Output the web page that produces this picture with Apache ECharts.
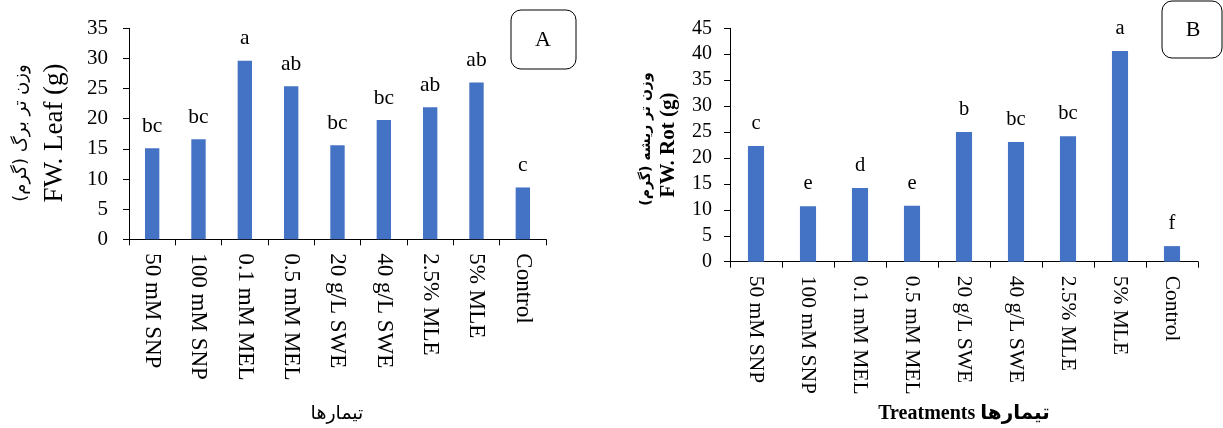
<!DOCTYPE html>
<html>
<head>
<meta charset="utf-8">
<script src="https://cdn.jsdelivr.net/npm/echarts@6/dist/echarts.min.js"></script>
<style>
html,body{margin:0;padding:0;background:#fff;}
#chart{width:1223px;height:428px;}
</style>
</head>
<body>
<div id="chart"></div>
<script>
var categories = ['50 mM SNP','100 mM SNP','0.1 mM MEL','0.5 mM MEL','20 g/L SWE','40 g/L SWE','2.5% MLE','5% MLE','Control'];
var leafValues = [15.1,16.6,29.6,25.4,15.6,19.8,21.9,26.0,8.6];
var leafLetters = ['bc','bc','a','ab','bc','bc','ab','ab','c'];
var rootValues = [22.3,10.7,14.2,10.8,25.0,23.1,24.2,40.6,3.0];
var rootLetters = ['c','e','d','e','b','bc','bc','a','f'];
var leafTicks = [0,35,5];
var rootTicks = [0,45,5];

var SERIF = '"Liberation Serif","Times New Roman","DejaVu Sans",serif';
var BAR = '#4472C4';

var chart = echarts.init(document.getElementById('chart'), null, {renderer:'canvas'});

function xAxisCfg(gi, fs){
  return {
    type:'category', gridIndex:gi, data:categories,
    axisLine:{show:true, lineStyle:{color:'#000', width:1}},
    axisTick:{show:true, alignWithLabel:false, length:6, lineStyle:{color:'#000'}},
    axisLabel:{interval:0, rotate:-90, margin:14, color:'#000', fontFamily:SERIF, fontSize:fs},
    splitLine:{show:false}
  };
}
function yAxisCfg(gi, t, fs, m){
  return {
    type:'value', gridIndex:gi, min:t[0], max:t[1], interval:t[2],
    axisLine:{show:true, lineStyle:{color:'#000', width:1}},
    axisTick:{show:true, length:6, lineStyle:{color:'#000'}},
    axisLabel:{margin:m, color:'#000', fontFamily:SERIF, fontSize:fs},
    splitLine:{show:false}
  };
}
function seriesCfg(i, vals, letters, fs, dist){
  return {
    type:'bar', xAxisIndex:i, yAxisIndex:i, data:vals, barWidth:'31%',
    itemStyle:{color:BAR},
    label:{show:true, position:'top', distance:dist, color:'#000', fontFamily:SERIF, fontSize:fs,
      formatter:function(p){return letters[p.dataIndex];}},
    animation:false
  };
}

var option = {
  backgroundColor:'#fff',
  animation:false,
  grid:[
    {left:129, top:28.3, width:417, height:211, containLabel:false},
    {left:730, top:28.3, width:468, height:233.4, containLabel:false}
  ],
  xAxis:[xAxisCfg(0,23), xAxisCfg(1,21.5)],
  yAxis:[yAxisCfg(0,leafTicks,21,21), yAxisCfg(1,rootTicks,20,18)],
  series:[
    seriesCfg(0, leafValues, leafLetters, 21.5, 11),
    seriesCfg(1, rootValues, rootLetters, 20.5, 12)
  ],
  graphic:[
    {type:'text', x:21, y:133, rotation:Math.PI/2,
      style:{text:'وزن تر برگ (گرم)', font:'18px "DejaVu Sans"', fill:'#000', align:'center', verticalAlign:'middle'}},
    {type:'text', x:55, y:133, rotation:Math.PI/2,
      style:{text:'FW. Leaf (g)', font:'27px ' + SERIF, fill:'#000', align:'center', verticalAlign:'middle'}},
    {type:'text', x:337, y:414,
      style:{text:'تیمارها', font:'19px "DejaVu Sans"', fill:'#000', align:'center', verticalAlign:'middle'}},
    {type:'text', x:646, y:139, rotation:Math.PI/2,
      style:{text:'وزن تر ریشه (گرم)', font:'bold 14px "DejaVu Sans"', fill:'#000', align:'center', verticalAlign:'middle'}},
    {type:'text', x:669, y:145, rotation:Math.PI/2,
      style:{text:'FW. Rot (g)', font:'bold 21px ' + SERIF, fill:'#000', align:'center', verticalAlign:'middle'}},
    {type:'text', x:964, y:414,
      style:{text:'Treatments تیمارها', font:'bold 20px ' + SERIF, fill:'#000', align:'center', verticalAlign:'middle'}},
    {type:'rect', shape:{x:511, y:10, width:65, height:59, r:10},
      style:{fill:'none', stroke:'#000', lineWidth:1}},
    {type:'text', x:543, y:40,
      style:{text:'A', font:'22px ' + SERIF, fill:'#000', align:'center', verticalAlign:'middle'}},
    {type:'rect', shape:{x:1162, y:1, width:60, height:57, r:10},
      style:{fill:'none', stroke:'#000', lineWidth:1}},
    {type:'text', x:1193, y:30,
      style:{text:'B', font:'22px ' + SERIF, fill:'#000', align:'center', verticalAlign:'middle'}}
  ]
};
chart.setOption(option);
</script>
</body>
</html>
